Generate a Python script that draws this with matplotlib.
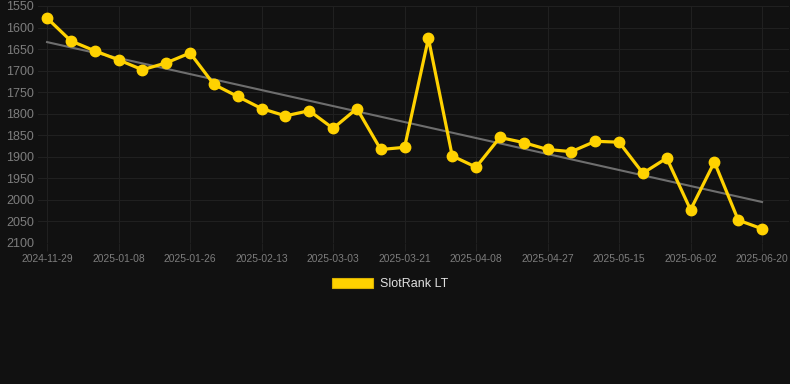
import numpy as np
import matplotlib
matplotlib.use('Agg')
import matplotlib.pyplot as plt
from matplotlib.patches import Patch

# SlotRank values, one per point (y axis is inverted: lower rank = higher up)
rank_values = [1578, 1631, 1654, 1675, 1698, 1682, 1659, 1732, 1760, 1788,
               1805, 1793, 1834, 1788, 1883, 1878, 1625, 1898, 1924, 1855,
               1867, 1883, 1888, 1864, 1866, 1938, 1903, 2023, 1912, 2047,
               2067]
tick_labels = ['2024-11-29', '2025-01-08', '2025-01-26', '2025-02-13',
               '2025-03-03', '2025-03-21', '2025-04-08', '2025-04-27',
               '2025-05-15', '2025-06-02', '2025-06-20']
y_ticks = list(range(1550, 2101, 50))
series_name = 'SlotRank LT'

plt.rcParams['font.family'] = ['Liberation Sans', 'DejaVu Sans']

bg = '#111111'
yellow = '#FFD200'
grid_c = '#202020'

x = np.arange(len(rank_values))

fig = plt.figure(figsize=(7.9, 3.84), dpi=100, facecolor=bg)
ax = fig.add_axes([38/790, 1 - 243/384, 751/790, 237/384])
ax.set_facecolor(bg)

# linear trend
k, b = np.polyfit(x, rank_values, 1)
ax.plot(x, k*x + b, color='#6e6e6e', lw=1.5, zorder=2)

ax.plot(x, rank_values, color=yellow, lw=2.3, marker='o', ms=7.5,
        markerfacecolor=yellow, markeredgecolor=yellow, zorder=3)

ax.set_ylim(2100, 1550)
ax.set_yticks(y_ticks)
ax.set_xlim(-0.38, 31.13)
ax.set_xticks(x[::3])
ax.set_xticklabels(tick_labels)

ax.grid(True, color=grid_c, lw=0.8)
ax.set_axisbelow(True)
for s in ax.spines.values():
    s.set_visible(False)
ax.tick_params(axis='y', length=0, pad=3, labelsize=9, labelcolor='#7d7d7d')
ax.tick_params(axis='x', length=6, width=0.8, color=grid_c, pad=2,
               labelsize=7.4, labelcolor='#7d7d7d')

handle = Patch(facecolor=yellow, edgecolor='#d9b000', lw=0.8)
fig.legend([handle], [series_name], loc='center', bbox_to_anchor=(390/790, 1 - 284/384),
           frameon=False, fontsize=9, labelcolor='#e0e0e0',
           handlelength=3.3, handleheight=0.85, handletextpad=0.55)

fig.savefig('out.png', dpi=100, facecolor=bg)
